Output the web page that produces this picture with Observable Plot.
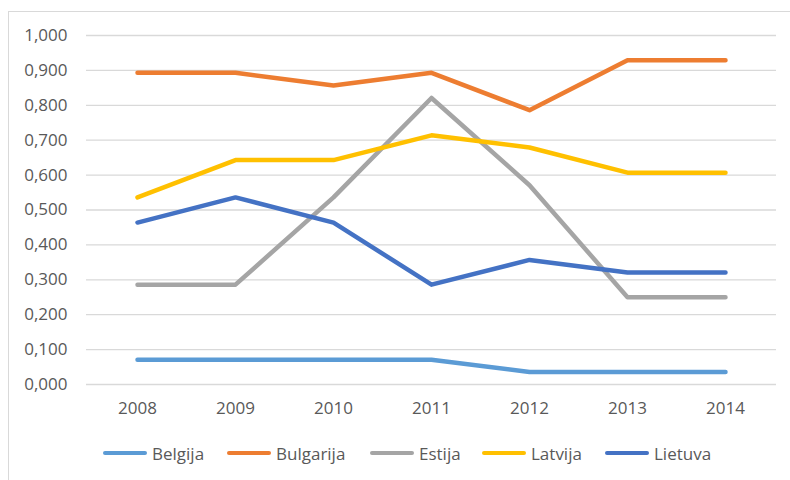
<!DOCTYPE html>
<html>
<head>
<meta charset="utf-8">
<script src="https://cdn.jsdelivr.net/npm/d3@7"></script>
<script src="https://cdn.jsdelivr.net/npm/@observablehq/plot@0.6"></script>
<style>
  html, body { margin: 0; padding: 0; background: #fff; }
  body { width: 790px; height: 480px; position: relative; overflow: hidden; font-family: "Open Sans", sans-serif; }
  #frame { position: absolute; left: 8px; top: 11px; width: 820px; height: 520px; border: 1px solid #D9D9D9; box-sizing: border-box; }
  #chart { position: absolute; left: 0; top: 0; }
  #legend { position: absolute; left: 0; top: 441px; width: 790px; height: 24px; }
  .item { position: absolute; top: 0; height: 24px; display: flex; align-items: center; font-size: 17px; color: #595959; }
  .sw { width: 44px; height: 4.5px; border-radius: 3px; margin-right: 5px; }
</style>
</head>
<body>
<div id="frame"></div>
<div id="chart"></div>
<div id="legend"></div>
<script>
const years = ["2008", "2009", "2010", "2011", "2012", "2013", "2014"];
const seriesNames = ["Belgija", "Bulgarija", "Estija", "Latvija", "Lietuva"];
const seriesColors = ["#5B9BD5", "#ED7D31", "#A5A5A5", "#FFC000", "#4472C4"];
const belgija   = [0.071, 0.071, 0.071, 0.071, 0.036, 0.036, 0.036];
const bulgarija = [0.893, 0.893, 0.857, 0.893, 0.786, 0.929, 0.929];
const estija    = [0.286, 0.286, 0.536, 0.821, 0.571, 0.250, 0.250];
const latvija   = [0.536, 0.643, 0.643, 0.714, 0.679, 0.607, 0.607];
const lietuva   = [0.464, 0.536, 0.464, 0.286, 0.357, 0.321, 0.321];
const yTicks = [0, 0.1, 0.2, 0.3, 0.4, 0.5, 0.6, 0.7, 0.8, 0.9, 1.0];

const seriesValues = [belgija, bulgarija, estija, latvija, lietuva];
const rows = [];
seriesNames.forEach((name, i) => {
  years.forEach((yr, j) => rows.push({ series: name, year: yr, value: seriesValues[i][j] }));
});

const fmt = d => d.toFixed(3).replace(".", ",");

const plot = Plot.plot({
  width: 790,
  height: 430,
  marginLeft: 86,
  marginRight: 14,
  marginTop: 35,
  marginBottom: 46,
  style: { fontFamily: "'Open Sans', sans-serif", fontSize: "17px", color: "#595959", background: "transparent" },
  x: { type: "point", domain: years, padding: 0.5, label: null },
  y: { domain: [0, 1], label: null },
  color: { domain: seriesNames, range: seriesColors },
  marks: [
    Plot.ruleY(yTicks, { stroke: "#D9D9D9", strokeWidth: 1.3 }),
    Plot.axisY(yTicks, { tickSize: 0, tickPadding: 19, tickFormat: fmt, fill: "#595959", fontSize: 17, label: null }),
    Plot.axisX({ tickSize: 0, tickPadding: 17, fill: "#595959", fontSize: 17, label: null }),
    Plot.line(rows, { x: "year", y: "value", z: "series", stroke: "series", strokeWidth: 4.5, strokeLinecap: "round", strokeLinejoin: "round" })
  ]
});
document.getElementById("chart").appendChild(plot);

const legendLefts = [103, 227, 370, 482, 605];
const legend = document.getElementById("legend");
seriesNames.forEach((name, i) => {
  const item = document.createElement("div");
  item.className = "item";
  item.style.left = legendLefts[i] + "px";
  const sw = document.createElement("span");
  sw.className = "sw";
  sw.style.background = seriesColors[i];
  const t = document.createElement("span");
  t.textContent = name;
  item.appendChild(sw);
  item.appendChild(t);
  legend.appendChild(item);
});
</script>
</body>
</html>
